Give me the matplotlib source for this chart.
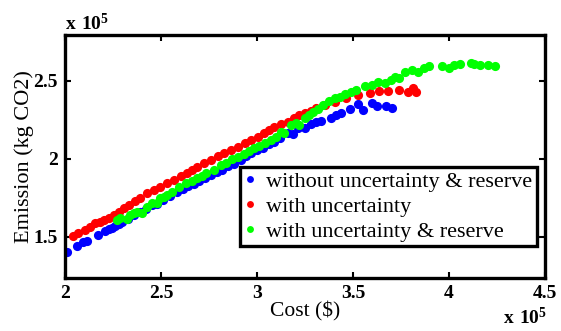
import matplotlib
matplotlib.use("Agg")
import matplotlib.pyplot as plt
from matplotlib.ticker import FuncFormatter

plt.rcParams['font.family'] = ['Liberation Serif', 'DejaVu Serif']
plt.rcParams['mathtext.fontset'] = 'custom'
plt.rcParams['mathtext.rm'] = 'Liberation Serif'
plt.rcParams['mathtext.bf'] = 'Liberation Serif:bold'

# values in units of 1e5
cost_no_unc = [2.009, 2.064, 2.096, 2.112, 2.171, 2.206, 2.228, 2.245, 2.262, 2.280,
               2.297, 2.330, 2.360, 2.392, 2.420, 2.455, 2.480, 2.510, 2.545, 2.585,
               2.615, 2.640, 2.670, 2.700, 2.730, 2.760, 2.790, 2.820, 2.850, 2.880,
               2.916, 2.945, 2.969, 3.000, 3.030, 3.060, 3.090, 3.120, 3.161, 3.187,
               3.213, 3.248, 3.283, 3.309, 3.335, 3.387, 3.414, 3.440, 3.483, 3.527,
               3.550, 3.597, 3.623, 3.670, 3.702]
emis_no_unc = [1.404, 1.440, 1.466, 1.474, 1.511, 1.536, 1.550, 1.558, 1.569, 1.583,
               1.596, 1.615, 1.636, 1.655, 1.676, 1.700, 1.712, 1.735, 1.760, 1.788,
               1.806, 1.822, 1.840, 1.858, 1.874, 1.895, 1.913, 1.930, 1.950, 1.968,
               1.992, 2.015, 2.034, 2.055, 2.070, 2.092, 2.110, 2.132, 2.163, 2.158,
               2.195, 2.199, 2.220, 2.233, 2.242, 2.263, 2.280, 2.291, 2.319, 2.349,
               2.312, 2.359, 2.338, 2.340, 2.325]

cost_unc = [2.043, 2.070, 2.105, 2.131, 2.157, 2.183, 2.201, 2.228, 2.253, 2.279,
            2.305, 2.331, 2.366, 2.393, 2.428, 2.462, 2.497, 2.532, 2.567, 2.602,
            2.634, 2.662, 2.690, 2.725, 2.759, 2.795, 2.829, 2.865, 2.899, 2.935,
            2.969, 3.003, 3.038, 3.065, 3.091, 3.125, 3.161, 3.195, 3.221, 3.248,
            3.280, 3.309, 3.352, 3.405, 3.466, 3.527, 3.588, 3.637, 3.684, 3.740,
            3.785, 3.815, 3.829]
emis_unc = [1.504, 1.522, 1.543, 1.560, 1.586, 1.596, 1.607, 1.622, 1.639, 1.660,
            1.681, 1.703, 1.731, 1.746, 1.778, 1.799, 1.821, 1.842, 1.863, 1.889,
            1.910, 1.930, 1.949, 1.970, 1.992, 2.014, 2.035, 2.057, 2.077, 2.099,
            2.120, 2.142, 2.163, 2.184, 2.205, 2.221, 2.237, 2.262, 2.280, 2.291,
            2.306, 2.323, 2.344, 2.365, 2.387, 2.408, 2.419, 2.436, 2.436, 2.440,
            2.426, 2.451, 2.428]

cost_unc_res = [2.270, 2.288, 2.323, 2.340, 2.358, 2.375, 2.402, 2.428, 2.454, 2.480,
                2.497, 2.515, 2.532, 2.559, 2.593, 2.628, 2.660, 2.690, 2.712, 2.733,
                2.776, 2.812, 2.840, 2.870, 2.899, 2.930, 2.960, 2.986, 3.010, 3.040,
                3.073, 3.100, 3.126, 3.143, 3.178, 3.204, 3.221, 3.248, 3.270, 3.292,
                3.318, 3.344, 3.375, 3.405, 3.430, 3.457, 3.490, 3.518, 3.562, 3.597,
                3.632, 3.666, 3.700, 3.719, 3.737, 3.771, 3.806, 3.841, 3.868, 3.894,
                3.963, 3.998, 4.025, 4.059, 4.112, 4.129, 4.164, 4.204, 4.242]
emis_unc_res = [1.607, 1.618, 1.612, 1.640, 1.654, 1.660, 1.654, 1.692, 1.714, 1.714,
                1.746, 1.752, 1.767, 1.788, 1.821, 1.842, 1.855, 1.874, 1.890, 1.906,
                1.928, 1.960, 1.972, 1.995, 2.013, 2.030, 2.050, 2.067, 2.082, 2.100,
                2.120, 2.140, 2.173, 2.163, 2.216, 2.227, 2.216, 2.259, 2.278, 2.301,
                2.320, 2.344, 2.370, 2.387, 2.398, 2.413, 2.425, 2.440, 2.468, 2.472,
                2.494, 2.487, 2.505, 2.526, 2.515, 2.558, 2.569, 2.558, 2.579, 2.594,
                2.596, 2.583, 2.601, 2.607, 2.612, 2.605, 2.601, 2.601, 2.594]

labels = ['without uncertainty & reserve', 'with uncertainty', 'with uncertainty & reserve']
colors = ['#0000ff', '#ff0000', '#00ff00']

SCALE = 1e5
fig = plt.figure(figsize=(5.61, 3.31), dpi=100)
ax = fig.add_axes([65/561, 53/331, 480/561, 243.5/331])

series = [(cost_no_unc, emis_no_unc), (cost_unc, emis_unc), (cost_unc_res, emis_unc_res)]
for (cx, ey), lab, col in zip(series, labels, colors):
    ax.plot([c*SCALE for c in cx], [e*SCALE for e in ey], 'o', color=col,
            markersize=6.6, markeredgewidth=0, label=lab)

ax.set_xlim(2.0e5, 4.5e5)
ax.set_ylim(1.235e5, 2.796e5)
ax.set_xticks([2.0e5, 2.5e5, 3.0e5, 3.5e5, 4.0e5, 4.5e5])
ax.set_yticks([1.5e5, 2.0e5, 2.5e5])
fmt = FuncFormatter(lambda v, p: '%g' % (v / SCALE))
ax.xaxis.set_major_formatter(fmt)
ax.yaxis.set_major_formatter(fmt)
ax.tick_params(direction='in', length=4, width=1.5, top=True, right=True,
               labelsize=14, pad=5)
for lbl in ax.get_xticklabels() + ax.get_yticklabels():
    lbl.set_fontweight('bold')
for s in ax.spines.values():
    s.set_linewidth(2.4)

ax.set_xlabel('Cost ($)', fontsize=15.5, labelpad=0)
ax.set_ylabel('Emission (kg CO2)', fontsize=16, labelpad=0)

fig.text(65/561, 1 - 30/331, r'$\mathbf{x\ 10^{5}}$', fontsize=14, ha='left', va='baseline')
fig.text(503/561, 1 - 324/331, r'$\mathbf{x\ 10^{5}}$', fontsize=14, ha='left', va='baseline')

leg = ax.legend(loc='lower right', bbox_to_anchor=(0.983, 0.131), borderaxespad=0,
                fontsize=16, markerscale=0.75, handlelength=0.55, handletextpad=0.45,
                borderpad=0.2, labelspacing=0.2, fancybox=False, framealpha=1,
                edgecolor='black')
leg.get_frame().set_linewidth(2.4)

fig.savefig('out.png', dpi=100)
